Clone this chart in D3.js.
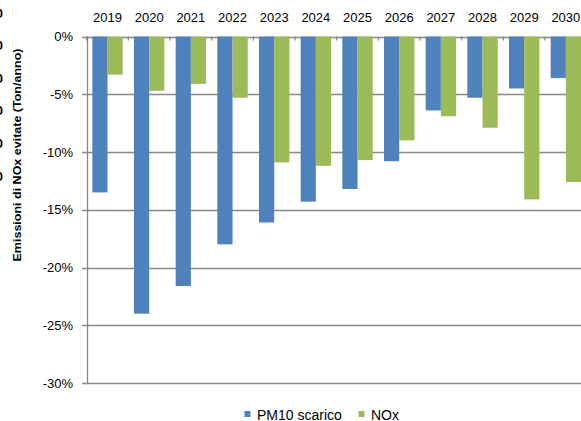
<!DOCTYPE html>
<html>
<head>
<meta charset="utf-8">
<style>
  body { margin: 0; background: #fff; }
  svg { display: block; font-family: "Liberation Sans", Arial, sans-serif; }
</style>
</head>
<body>
<script src="https://d3js.org/d3.v7.min.js"></script>
<script>
// dati
var years = ["2019","2020","2021","2022","2023","2024","2025","2026","2027","2028","2029","2030"];
var pm10 = [-13.5, -24.0, -21.6, -18.0, -16.1, -14.3, -13.2, -10.8, -6.4, -5.3, -4.5, -3.6];
var nox  = [-3.3, -4.7, -4.1, -5.3, -10.9, -11.2, -10.7, -9.0, -6.9, -7.9, -14.1, -12.6];
var seriesNames = ["PM10 scarico", "NOx"];
var yTicks = [0, -5, -10, -15, -20, -25, -30];
var cutLabels = ["0","0","0","0","0","0"]; // resti di un altro grafico, tagliati a sinistra

var W = 581, H = 421;
var colors = ["#4f81bd", "#9bbb59"];

var svg = d3.select("body").append("svg")
    .attr("width", W)
    .attr("height", H);

var x = d3.scaleBand()
    .domain(years)
    .range([86.7, 586.7])
    .paddingInner(0.27)
    .paddingOuter(0.135);

var x1 = d3.scaleBand()
    .domain(seriesNames)
    .range([0, x.bandwidth()]);

var y = d3.scaleLinear()
    .domain([0, -30])
    .range([36.5, 383]);

// griglia
svg.append("g").selectAll("line")
    .data(yTicks)
  .enter().append("line")
    .attr("x1", 82)
    .attr("x2", W)
    .attr("y1", function(d) { return Math.round(y(d)) + 0.5; })
    .attr("y2", function(d) { return Math.round(y(d)) + 0.5; })
    .style("stroke", "#878787")
    .style("stroke-width", 1.3);

// etichette asse y
svg.append("g").selectAll("text")
    .data(yTicks)
  .enter().append("text")
    .attr("x", 73)
    .attr("y", function(d) { return y(d); })
    .attr("dy", "0.35em")
    .attr("text-anchor", "end")
    .style("font-size", "13px")
    .style("fill", "#000")
    .text(function(d) { return d + "%"; });

// barre
var data = years.map(function(yr, i) { return {year: yr, vals: [pm10[i], nox[i]]}; });

var groups = svg.append("g").selectAll("g")
    .data(data)
  .enter().append("g")
    .attr("transform", function(d) { return "translate(" + x(d.year) + ",0)"; });

groups.selectAll("rect")
    .data(function(d) { return d.vals.map(function(v, j) { return {name: seriesNames[j], v: v, j: j}; }); })
  .enter().append("rect")
    .attr("x", function(d) { return x1(d.name); })
    .attr("width", x1.bandwidth())
    .attr("y", y(0))
    .attr("height", function(d) { return y(d.v) - y(0); })
    .style("fill", function(d) { return colors[d.j]; });

// asse y verticale
svg.append("line")
    .attr("x1", 87.5).attr("x2", 87.5)
    .attr("y1", y(0)).attr("y2", y(-30))
    .style("stroke", "#878787")
    .style("stroke-width", 1.3);

// tacche asse categorie
var step = x.step();
svg.append("g").selectAll("line")
    .data(d3.range(years.length + 1))
  .enter().append("line")
    .attr("x1", function(i) { return 86.7 + i * step; })
    .attr("x2", function(i) { return 86.7 + i * step; })
    .attr("y1", y(0))
    .attr("y2", y(0) + 4)
    .style("stroke", "#878787")
    .style("stroke-width", 1.3);

// anni in alto
svg.append("g").selectAll("text")
    .data(years)
  .enter().append("text")
    .attr("x", function(d) { return x(d) + x.bandwidth() / 2; })
    .attr("y", 21.5)
    .attr("text-anchor", "middle")
    .style("font-size", "13px")
    .style("fill", "#000")
    .text(function(d) { return d; });

// titolo asse y
svg.append("text")
    .attr("transform", "translate(21,155)rotate(-90)")
    .attr("text-anchor", "middle")
    .attr("textLength", 213)
    .attr("lengthAdjust", "spacingAndGlyphs")
    .style("font-size", "11px")
    .style("font-weight", "bold")
    .style("fill", "#000")
    .text("Emissioni di NOx evitate (Ton/anno)");

// frammenti tagliati sul bordo sinistro
var yc = d3.scalePoint().domain(d3.range(cutLabels.length)).range([13, 176]);
svg.append("g").selectAll("text")
    .data(cutLabels)
  .enter().append("text")
    .attr("x", 3)
    .attr("y", function(d, i) { return yc(i); })
    .attr("dy", "0.35em")
    .attr("text-anchor", "end")
    .style("font-size", "13px")
    .style("font-weight", "bold")
    .style("fill", "#000")
    .text(function(d) { return d; });

// legenda
var legend = svg.append("g");
var legX = [244.5, 358.5];
seriesNames.forEach(function(n, i) {
  legend.append("rect")
    .attr("x", legX[i]).attr("y", 411)
    .attr("width", 6).attr("height", 6)
    .style("fill", colors[i]);
  legend.append("text")
    .attr("x", legX[i] + 12.5)
    .attr("y", 419.5)
    .style("font-size", "14px")
    .style("fill", "#000")
    .text(n);
});
</script>
</body>
</html>
